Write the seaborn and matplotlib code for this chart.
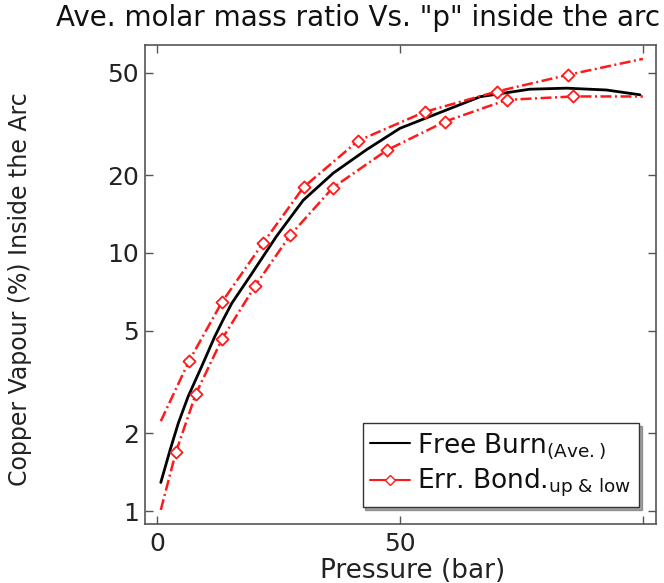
import numpy as np
import pandas as pd
import seaborn as sns
import matplotlib
matplotlib.use("Agg")
import matplotlib.pyplot as plt
from matplotlib.lines import Line2D
from matplotlib.mathtext import MathTextParser

# ---- data ----
ave_p = [0.8, 2.7, 4.4, 6.4, 9.2, 11.9, 13.6, 15.4, 19.1, 24.6, 30.1, 36.3,
         43.1, 50.0, 56.2, 66.5, 76.7, 84.3, 92.5, 99.4]
ave_v = [1.29, 1.72, 2.19, 2.77, 3.63, 4.74, 5.50, 6.38, 8.09, 11.6, 16.0, 20.4,
         25.1, 30.4, 33.8, 40.3, 43.1, 43.5, 42.8, 41.0]

up_p = [0.8, 6.6, 13.4, 21.8, 30.2, 41.4, 55.1, 69.9, 84.6, 100.0]
up_v = [2.23, 3.81, 6.46, 10.9, 18.0, 27.2, 35.2, 42.2, 49.0, 56.5]
up_mark = [False, True, True, True, True, True, True, True, True, False]

low_p = [0.8, 3.9, 8.0, 13.4, 20.2, 27.4, 36.2, 47.3, 59.3, 72.0, 85.7, 100.0]
low_v = [1.01, 1.69, 2.84, 4.64, 7.45, 11.7, 17.9, 25.0, 32.3, 39.2, 40.4, 40.4]
low_mark = [False, True, True, True, True, True, True, True, True, True, True, False]

x_ticks = [0, 50, 100]
x_tick_labels = ["0", "50", ""]
y_ticks = [1, 2, 5, 10, 20, 50]
y_tick_labels = ["1", "2", "5", "10", "20", "50"]

sns.set_theme(style="white")
plt.rcParams['font.family'] = ['DejaVu Sans']
plt.rcParams['mathtext.fontset'] = 'dejavusans'
plt.rcParams['mathtext.default'] = 'regular'


def first_ok(cands):
    p = MathTextParser("agg")
    for c in cands:
        try:
            p.parse(c, dpi=100)
            return c
        except Exception:
            continue
    return cands[-1]


lab1 = first_ok([r"Free Burn$_{(Ave.)}$", "Free Burn (Ave.)"])
lab2 = first_ok([r"Err. Bond.$_{up\ \&\ low}$", r"Err. Bond.$_{up\ &\ low}$",
                 r"Err. Bond.$_{up\ and\ low}$", "Err. Bond. up & low"])

fig = plt.figure(figsize=(6.64, 5.83), dpi=100)
ax = fig.add_axes([0.218, 0.101, 0.770, 0.822])

df_ave = pd.DataFrame({"p": ave_p, "v": ave_v})
df_up = pd.DataFrame({"p": up_p, "v": up_v, "m": up_mark})
df_low = pd.DataFrame({"p": low_p, "v": low_v, "m": low_mark})

red = "#ff1a1a"
dash = (4.4, 1.4, 0.8, 1.4)
sns.lineplot(data=df_ave, x="p", y="v", ax=ax, color="black", linewidth=2.0,
             estimator=None, sort=False)
for d in (df_up, df_low):
    sns.lineplot(data=d, x="p", y="v", ax=ax, color=red, linewidth=1.8,
                 estimator=None, sort=False, dashes=False, linestyle=(0, dash))
    sns.scatterplot(data=d[d["m"]], x="p", y="v", ax=ax, marker="D", s=38,
                    facecolor="white", edgecolor=red, linewidth=1.3, zorder=5)

ax.set_yscale("log")
ax.set_xlim(-2.5, 102.7)
ax.set_ylim(0.89, 64)
ax.set_xticks(x_ticks)
ax.set_xticklabels(x_tick_labels)
ax.set_yticks(y_ticks)
ax.set_yticklabels(y_tick_labels)
ax.minorticks_off()
ax.tick_params(axis="both", which="major", direction="in", length=6, width=1,
               color="#555555", labelsize=18, labelcolor="#222222",
               top=True, right=True, left=True, bottom=True)
ax.tick_params(axis="x", pad=6)
ax.tick_params(axis="y", pad=4)
for s in ax.spines.values():
    s.set_color("#555555")
    s.set_linewidth(1.2)

ax.set_xlabel("Pressure (bar)", fontsize=19, color="#222222")
ax.xaxis.set_label_coords(0.524, -0.071)
ax.set_ylabel("Copper Vapour (%) Inside the Arc", fontsize=17, color="#222222")
ax.yaxis.set_label_coords(-0.221, 0.49)
fig.text(0.54, 0.969, 'Ave. molar mass ratio Vs. "p" inside the arc',
         ha="center", va="center", fontsize=20, color="#111111")

handles = [
    Line2D([], [], color="black", linewidth=1.5),
    Line2D([], [], color=red, linewidth=1.5, marker="D", markersize=5,
           markerfacecolor="white", markeredgecolor=red),
]
leg = ax.legend(handles, [lab1, lab2], loc="lower right", fontsize=19, frameon=True,
                fancybox=False, shadow=True, framealpha=1, edgecolor="#333333",
                borderpad=0.3, handlelength=1.5, handletextpad=0.27,
                labelspacing=0.25, borderaxespad=0,
                bbox_to_anchor=(0.967, 0.035))
leg.get_frame().set_linewidth(1.0)
for t in leg.get_texts():
    t.set_color("#111111")

fig.savefig("out.png", dpi=100)
